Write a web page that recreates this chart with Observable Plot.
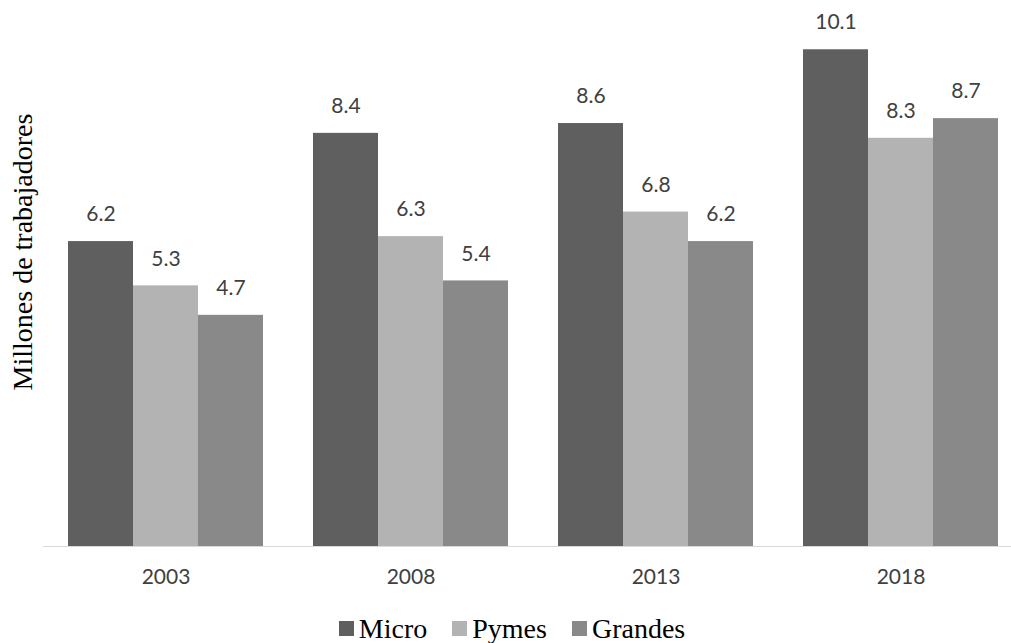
<!DOCTYPE html>
<html>
<head>
<meta charset="utf-8">
<script src="https://cdn.jsdelivr.net/npm/d3@7"></script>
<script src="https://cdn.jsdelivr.net/npm/@observablehq/plot@0.6"></script>
<style>
  body { margin: 0; background: #fff; }
  #chart { width: 1011px; }
  div.lg-swatches {
    font-family: "Liberation Serif", "Times New Roman", serif;
    font-size: 28px;
    line-height: 1;
    color: #000;
    justify-content: center;
    margin: 12px 0 0 0;
    padding-left: 38px;
  }
  div.lg-swatches span.lg-swatch { margin-right: 25px; }
  div.lg-swatches span.lg-swatch > svg { margin-right: 5px; }
</style>
</head>
<body>
<div id="chart"></div>
<script>
// Workers (millions) by company size, per census year
const years = ["2003", "2008", "2013", "2018"];
const sizes = ["Micro", "Pymes", "Grandes"];
const micro = [6.2, 8.4, 8.6, 10.1];
const pymes = [5.3, 6.3, 6.8, 8.3];
const grandes = [4.7, 5.4, 6.2, 8.7];
const colors = ["#5f5f5f", "#b3b3b3", "#898989"];
const yLabel = "Millones de trabajadores";

const series = {Micro: micro, Pymes: pymes, Grandes: grandes};
const data = years.flatMap((year, i) =>
  sizes.map(size => ({year, size, value: series[size][i]}))
);

const sans = "Lato, 'Open Sans', sans-serif";

const chart = Plot.plot({
  width: 1011,
  height: 600,
  marginLeft: 43,
  marginRight: -12,
  marginTop: 5,
  marginBottom: 54,
  fx: {domain: years, paddingInner: 0.204, paddingOuter: 0.102, label: null},
  x: {domain: sizes, padding: 0, axis: null},
  y: {domain: [0, 11], axis: null},
  color: {domain: sizes, range: colors},
  marks: [
    Plot.barY(data, {fx: "year", x: "size", y: "value", fill: "size"}),
    // baseline across the whole frame, extended over the outer facet padding
    Plot.frame({
      facet: "super", anchor: "bottom",
      insetLeft: -25, insetRight: -25,
      stroke: "#d9d9d9", strokeWidth: 1.2
    }),
    Plot.text(data, {
      fx: "year", x: "size", y: "value",
      text: d => d.value.toFixed(1),
      dy: -27, lineAnchor: "middle",
      fontSize: 21, fontFamily: sans, fill: "#404040"
    }),
    Plot.axisFx({
      anchor: "bottom",
      tickSize: 0, tickPadding: 23, label: null,
      fontSize: 21, fontFamily: sans, color: "#404040"
    }),
    Plot.text([yLabel], {
      facet: "super",
      frameAnchor: "left", rotate: -90,
      lineAnchor: "middle", textAnchor: "middle",
      dx: -45, dy: -24,
      fontSize: 28, fontFamily: "'Liberation Serif', 'Times New Roman', serif",
      fill: "#000"
    })
  ]
});

const legend = Plot.legend({
  color: {domain: sizes, range: colors},
  swatchSize: 15,
  className: "lg"
});

const root = document.getElementById("chart");
root.appendChild(chart);
root.appendChild(legend);
</script>
</body>
</html>
